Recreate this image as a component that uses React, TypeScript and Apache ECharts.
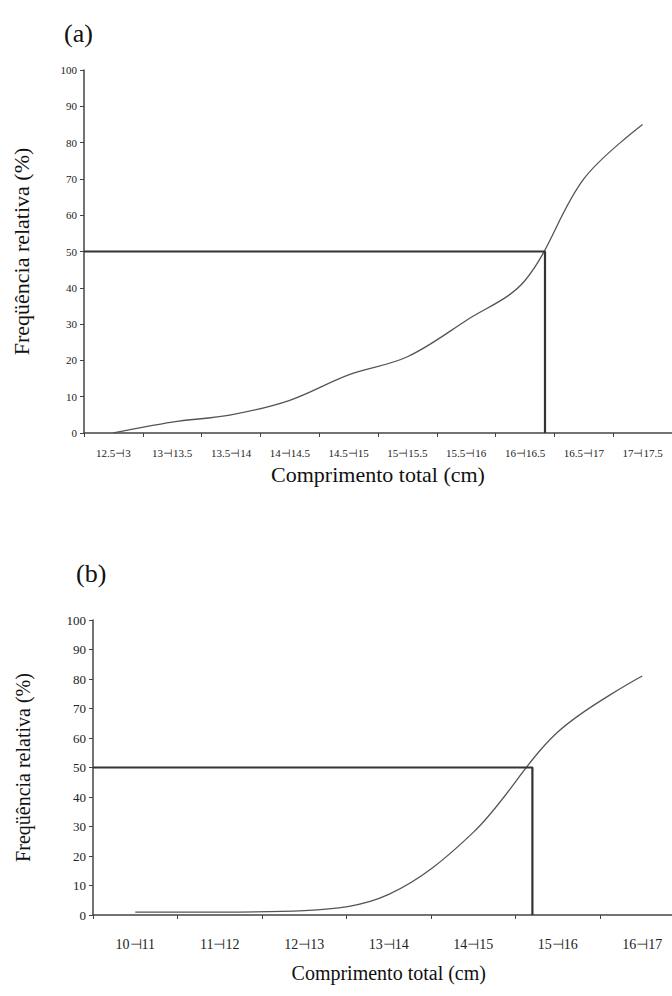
import React, { useEffect, useRef } from "react";
import * as echarts from "echarts";

const catsA = ["12.5⊣3", "13⊣13.5", "13.5⊣14", "14⊣14.5", "14.5⊣15", "15⊣15.5", "15.5⊣16", "16⊣16.5", "16.5⊣17", "17⊣17.5"];
const valsA = [0, 3, 5, 9, 16, 21, 31, 42, 70, 85];
const catsB = ["10⊣11", "11⊣12", "12⊣13", "13⊣14", "14⊣15", "15⊣16", "16⊣17"];
const valsB = [1, 1, 1.5, 7, 28, 62, 81];
// median positions expressed in category-index units
const medianA = 7.34;
const medianB = 4.7;
const medianLevel = 50;
const yTicks = { min: 0, max: 100, interval: 10 };

const FONT = "Times New Roman, Liberation Serif, serif";
const AX = "#444";
const W = 690;

export default function App() {
  const ref = useRef<HTMLDivElement>(null);
  useEffect(() => {
    if (!ref.current) return;
    const chart = echarts.init(ref.current, undefined, { renderer: "svg" });
    const axisLine = { lineStyle: { color: AX, width: 1.5 } };
    const catAxis = (cats: string[], grid: number, fs: number, margin: number, nameGap: number, nameFs: number) => ({
      type: "category",
      gridIndex: grid,
      data: cats,
      boundaryGap: true,
      axisLine,
      axisTick: { show: true, alignWithLabel: false, length: 4, lineStyle: { color: AX } },
      axisLabel: { color: "#222", fontFamily: FONT, fontSize: fs, margin, interval: 0 },
      name: "Comprimento total (cm)",
      nameLocation: "middle",
      nameGap,
      nameTextStyle: { color: "#111", fontFamily: FONT, fontSize: nameFs },
      splitLine: { show: false },
    });
    const hiddenVal = (grid: number, n: number) => ({
      type: "value",
      gridIndex: grid,
      min: -0.5,
      max: n - 0.5,
      show: false,
    });
    const yAx = (grid: number, fs: number, nameGap: number, nameFs: number) => ({
      type: "value",
      gridIndex: grid,
      min: yTicks.min,
      max: yTicks.max,
      interval: yTicks.interval,
      axisLine: { show: true, onZero: false, ...axisLine },
      axisTick: { show: true, length: 4, lineStyle: { color: AX } },
      axisLabel: { color: "#222", fontFamily: FONT, fontSize: fs, margin: 7 },
      splitLine: { show: false },
      name: "Freqüência relativa (%)",
      nameLocation: "middle",
      nameGap,
      nameTextStyle: { color: "#111", fontFamily: FONT, fontSize: nameFs },
    });
    const curve = (xi: number, yi: number, data: number[]) => ({
      type: "line",
      xAxisIndex: xi,
      yAxisIndex: yi,
      data,
      smooth: 0.35,
      symbol: "none",
      lineStyle: { color: "#555", width: 1.3 },
      z: 3,
    });
    const median = (xi: number, yi: number, m: number) => ({
      type: "line",
      xAxisIndex: xi,
      yAxisIndex: yi,
      data: [[-0.5, medianLevel], [m, medianLevel], [m, 0]],
      symbol: "none",
      lineStyle: { color: "#333", width: 2.2 },
      z: 4,
    });
    chart.setOption({
      animation: false,
      backgroundColor: "#fff",
      textStyle: { fontFamily: FONT },
      grid: [
        { left: 84, right: W - 672, top: 70, bottom: 996 - 433 },
        { left: 93, right: W - 684.5, top: 620, bottom: 996 - 915 },
      ],
      xAxis: [
        catAxis(catsA, 0, 11, 14, 30, 22),
        catAxis(catsB, 1, 14, 22, 48, 20),
        hiddenVal(0, catsA.length),
        hiddenVal(1, catsB.length),
      ],
      yAxis: [yAx(0, 11, 52, 22), yAx(1, 13, 60, 20)],
      graphic: [
        { type: "text", left: 64, top: 20, style: { text: "(a)", font: `26px ${FONT}`, fill: "#111" } },
        { type: "text", left: 76, top: 560, style: { text: "(b)", font: `26px ${FONT}`, fill: "#111" } },
      ],
      series: [
        curve(0, 0, valsA),
        curve(1, 1, valsB),
        median(2, 0, medianA),
        median(3, 1, medianB),
      ],
    });
    return () => chart.dispose();
  }, []);
  return (
    <div style={{ position: "absolute", left: 0, top: 0, width: 672, height: 996, overflow: "hidden" }}>
      <div ref={ref} style={{ width: W, height: 996 }} />
    </div>
  );
}
